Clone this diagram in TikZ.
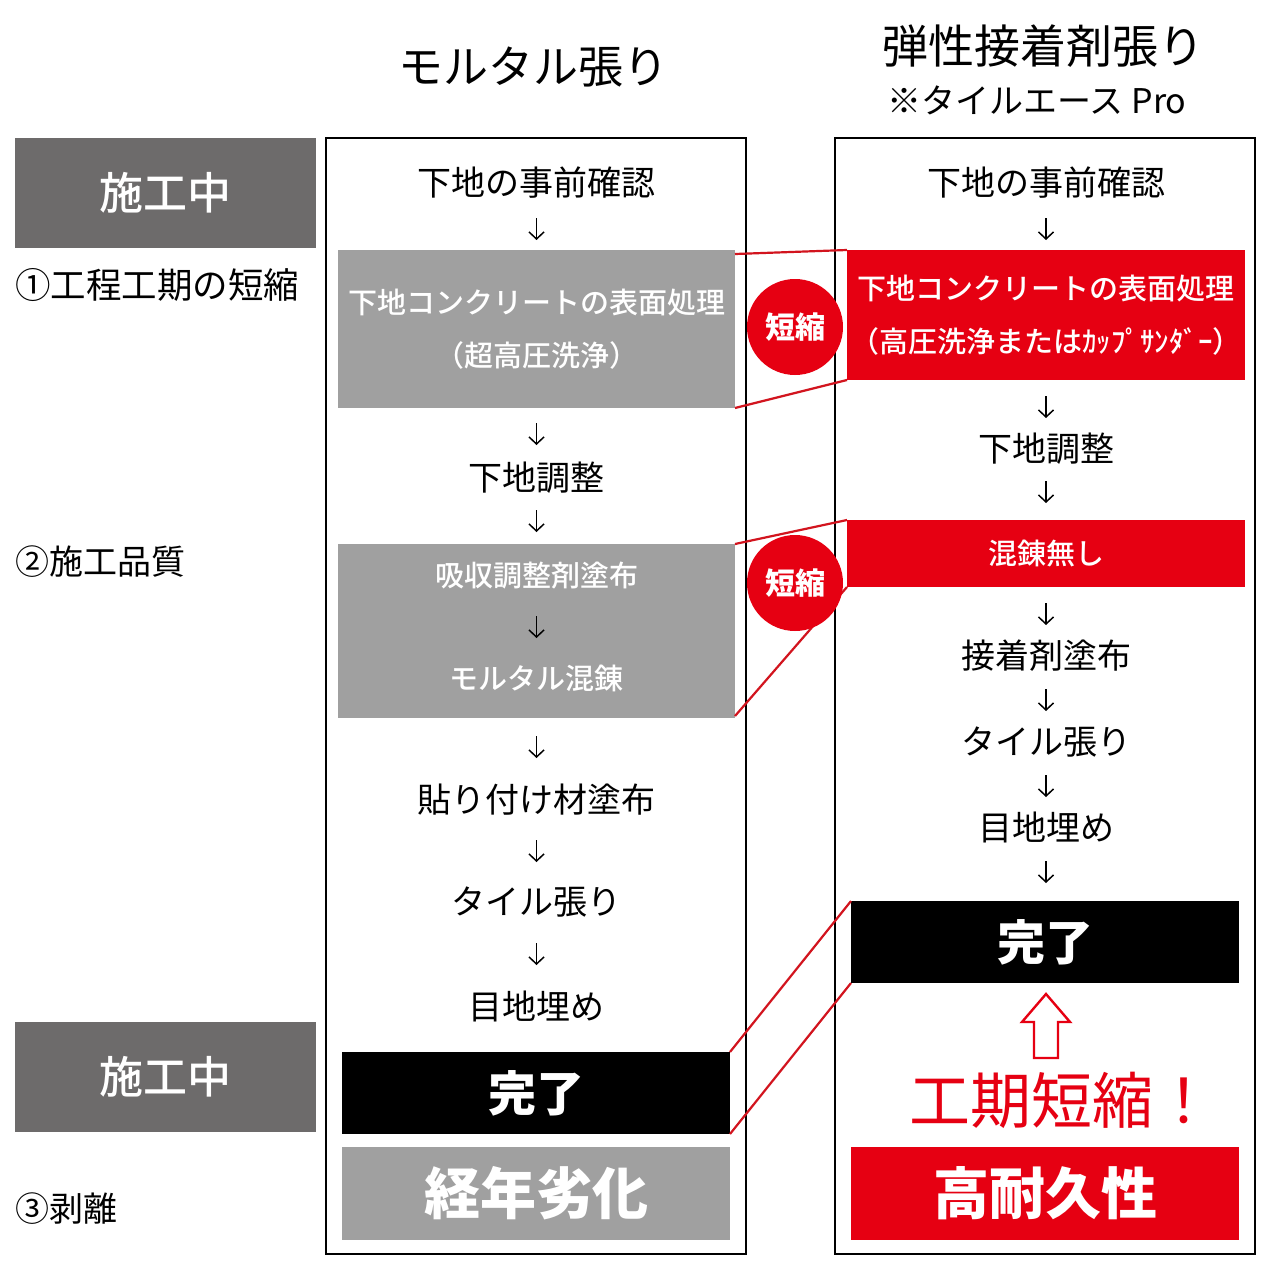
\documentclass[tikz,border=0pt]{standalone}
\usepackage{fontspec}
\setmainfont{Noto Sans CJK JP}
\IfFontExistsTF{Noto Sans CJK JP Medium}
  {\newfontfamily\semib{Noto Sans CJK JP Medium}}
  {\newcommand\semib{\bfseries}}
\newcommand\titlef{}
\usetikzlibrary{arrows.meta}
\definecolor{myred}{HTML}{E60012}
\definecolor{lnred}{HTML}{D2141E}
\definecolor{dgray}{HTML}{6D6B6B}
\definecolor{lgray}{HTML}{A0A0A0}
\newcommand{\fsz}[2]{\fontsize{#1}{#2}\selectfont}
\begin{document}
\begin{tikzpicture}[x=1pt,y=-1pt,
  box/.style={inner sep=0pt, outer sep=0pt, align=center, text=white},
  stxt/.style={inner sep=0pt, font=\fsz{34}{40}},
  lbl/.style={inner sep=0pt, anchor=west},
  arr/.style={line width=1.5pt, -{Straight Barb[length=7pt,width=15pt,line width=1.5pt]}},
  link/.style={draw=lnred, line width=2.2pt},
  frm/.style={draw=black, line width=1.3pt},
  badge/.style={circle, fill=myred, inner sep=0pt, minimum size=96pt, text=white, font=\fsz{30}{34}\bfseries}
]
\useasboundingbox (0,0) rectangle (1280,1280);
\fill[white] (0,0) rectangle (1280,1280);

% titles
\node[inner sep=0pt, font=\fsz{45}{50}\titlef] (t1) at (533,67) {モルタル張り};
\node[inner sep=0pt, font=\fsz{46}{50}\titlef] (t2) at (1043,46) {弾性接着剤張り};
\node[inner sep=0pt, font=\fsz{34}{40}\titlef] (t3) at (1037,100) {※タイルエース Pro};

% frames
\draw[frm] (326,138) rectangle (746,1254);
\draw[frm] (835,138) rectangle (1255,1254);

% left side labels
\node[box, fill=dgray, minimum width=301pt, minimum height=110pt, font=\fsz{44}{50}\semib] (d1) at (165.5,193) {施工中};
\node[box, fill=dgray, minimum width=301pt, minimum height=110pt, font=\fsz{44}{50}\semib] (d2) at (165.5,1077) {施工中};
\node[lbl, font=\fsz{35.5}{40}] (l1) at (15,285) {①工程工期の短縮};
\node[lbl, font=\fsz{34}{40}] (l2) at (15,562) {②施工品質};
\node[lbl, font=\fsz{34}{40}] (l3) at (15,1209) {③剥離};

% left column
\node[stxt] (a0) at (536.5,183) {下地の事前確認};
\node[box, fill=lgray, minimum width=397pt, minimum height=158pt, font=\fsz{29}{53}\semib] (g1) at (536.5,329) {下地コンクリートの表面処理\\（超高圧洗浄）};
\node[stxt] (a2) at (536.5,478) {下地調整};
\node[box, fill=lgray, minimum width=397pt, minimum height=174pt] (g2) at (536.5,631) {};
\node[inner sep=0pt, text=white, font=\fsz{29}{34}\semib] (g2a) at (536.5,576) {吸収調整剤塗布};
\node[inner sep=0pt, text=white, font=\fsz{29}{34}\semib] (g2b) at (536.5,678) {モルタル混錬};
\node[stxt] (a4) at (536.5,800) {貼り付け材塗布};
\node[stxt] (a5) at (536.5,902) {タイル張り};
\node[stxt] (a6) at (536.5,1006) {目地埋め};
\node[box, fill=black, minimum width=388pt, minimum height=82pt, font=\fsz{48}{52}\bfseries] (k1) at (536,1093) {完了};
\node[box, fill=lgray, minimum width=388pt, minimum height=93pt, font=\fsz{56}{60}\bfseries] (g3) at (536,1193.5) {経年劣化};

% right column
\node[stxt] (b0) at (1046,183) {下地の事前確認};
\node[box, fill=myred, minimum width=398pt, minimum height=130pt, font=\fsz{29}{53}\semib] (r1) at (1046,315) {下地コンクリートの表面処理\\（高圧洗浄またはｶｯﾌﾟｻﾝﾀﾞｰ）};
\node[stxt] (b2) at (1046,449) {下地調整};
\node[box, fill=myred, minimum width=398pt, minimum height=67pt, font=\fsz{29}{34}\semib] (r2) at (1046,553.5) {混錬無し};
\node[stxt] (b4) at (1046,656) {接着剤塗布};
\node[stxt] (b5) at (1046,742) {タイル張り};
\node[stxt] (b6) at (1046,827) {目地埋め};
\node[box, fill=black, minimum width=388pt, minimum height=82pt, font=\fsz{48}{52}\bfseries] (k2) at (1045,942) {完了};
\node[inner sep=0pt, text=myred, font=\fsz{61}{66}] (kk) at (1062,1100) {工期短縮！};
\node[box, fill=myred, minimum width=388pt, minimum height=93pt, font=\fsz{56}{60}\bfseries] (r3) at (1045,1193.5) {高耐久性};

% hollow up arrow
\draw[draw=myred, line width=2.4pt, fill=white, line join=miter]
  (1046,994) -- (1070,1022) -- (1058,1022) -- (1058,1058) -- (1034,1058) -- (1034,1022) -- (1022,1022) -- cycle;

% flow arrows (left)
\foreach \i/\y in {1/229,2/434,3/521,4/627,5/747,6/851,7/954}{
  \coordinate (la\i s) at (536.5,\y-11);
  \coordinate (la\i e) at (536.5,\y+11);
  \draw[arr] (la\i s) -- (la\i e);
}
% flow arrows (right)
\foreach \i/\y in {1/229,2/407,3/492,4/614,5/700,6/786,7/872}{
  \coordinate (ra\i s) at (1046,\y-11);
  \coordinate (ra\i e) at (1046,\y+11);
  \draw[arr] (ra\i s) -- (ra\i e);
}

% red links
\draw[link] (735,254) -- (r1.north west);
\draw[link] (735,408) -- (r1.south west);
\draw[link] (735,544) -- (r2.north west);
\draw[link] (735,716) -- (r2.south west);
\draw[link] (k1.north east) -- (k2.north west);
\draw[link] (k1.south east) -- (k2.south west);

% badges
\node[badge] (c1) at (795,327) {短縮};
\node[badge] (c2) at (795,583) {短縮};
\end{tikzpicture}
\end{document}
